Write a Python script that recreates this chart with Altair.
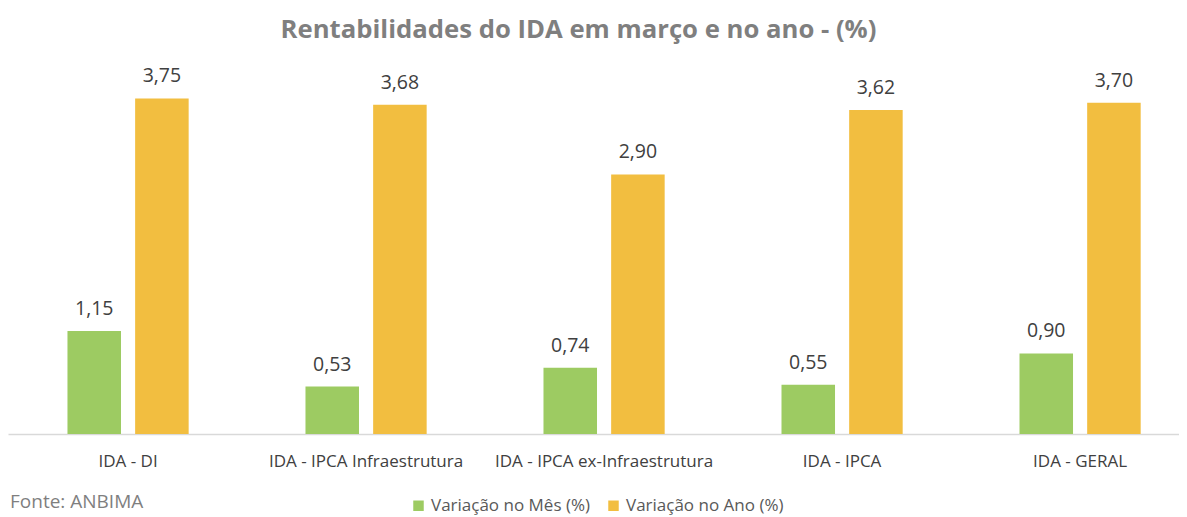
import altair as alt
import pandas as pd

categories = [
    "IDA - DI",
    "IDA - IPCA Infraestrutura",
    "IDA - IPCA ex-Infraestrutura",
    "IDA - IPCA",
    "IDA - GERAL",
]
series = ["Variação no Mês (%)", "Variação no Ano (%)"]
mes = [1.15, 0.53, 0.74, 0.55, 0.90]
ano = [3.75, 3.68, 2.90, 3.62, 3.70]
colors = ["#9DCB62", "#F2BE40"]
source_text = ["Fonte: ANBIMA"]

rows = []
for c, m, a in zip(categories, mes, ano):
    rows.append({"cat": c, "serie": series[0], "valor": m})
    rows.append({"cat": c, "serie": series[1], "valor": a})
df = pd.DataFrame(rows)
df["rotulo"] = df["valor"].map(lambda v: f"{v:.2f}".replace(".", ","))

FONT = "Open Sans"

x = alt.X(
    "cat:N",
    sort=categories,
    title=None,
    scale=alt.Scale(paddingInner=0.43, paddingOuter=0.175, align=0.627),
    axis=alt.Axis(
        labelAngle=0,
        labelFontSize=17,
        labelColor="#404040",
        labelFont=FONT,
        labelLimit=400,
        domainColor="#d9d9d9",
        domainWidth=1.5,
        ticks=False,
        tickSize=0,
        labelPadding=19,
    ),
)
xo = alt.XOffset("serie:N", sort=series, scale=alt.Scale(paddingInner=0.209, paddingOuter=0.107))
y = alt.Y("valor:Q", scale=alt.Scale(domain=[0, 4]), axis=None)
color = alt.Color(
    "serie:N",
    sort=series,
    scale=alt.Scale(domain=series, range=colors),
    legend=alt.Legend(
        title=None,
        orient="none",
        legendX=402,
        legendY=421,
        direction="horizontal",
        symbolType="square",
        symbolSize=110,
        symbolStrokeWidth=0,
        labelFontSize=17,
        labelColor="#595959",
        labelFont=FONT,
        labelLimit=400,
        columnPadding=14,
    ),
)

base = alt.Chart(df)
bars = base.mark_bar().encode(x=x, xOffset=xo, y=y, color=color)
labels = base.mark_text(baseline="bottom", dy=-12, fontSize=19.5, color="#404040", font=FONT).encode(
    x=x, xOffset=xo, y=y, text="rotulo:N"
)
fonte = alt.Chart(pd.DataFrame({"t": source_text})).mark_text(
    align="left", baseline="middle", fontSize=19, color="#7f7f7f", font=FONT
).encode(x=alt.value(2), y=alt.value(426), text="t:N")

chart = (
    alt.layer(bars, labels, fonte)
    .properties(
        width=1171,
        height=358,
        background="white",
        padding={"left": 0, "right": 0, "top": 8, "bottom": 3},
        title=alt.TitleParams(
            "Rentabilidades do IDA em março e no ano - (%)",
            fontSize=25.7,
            font=FONT,
            fontWeight="bold",
            color="#7f7f7f",
            anchor="middle",
            offset=23,
            dx=-15,
        ),
    )
    .configure_view(strokeWidth=0, stroke="transparent")
)

chart.save("out.html", embed_options={"renderer": "svg", "actions": False})
